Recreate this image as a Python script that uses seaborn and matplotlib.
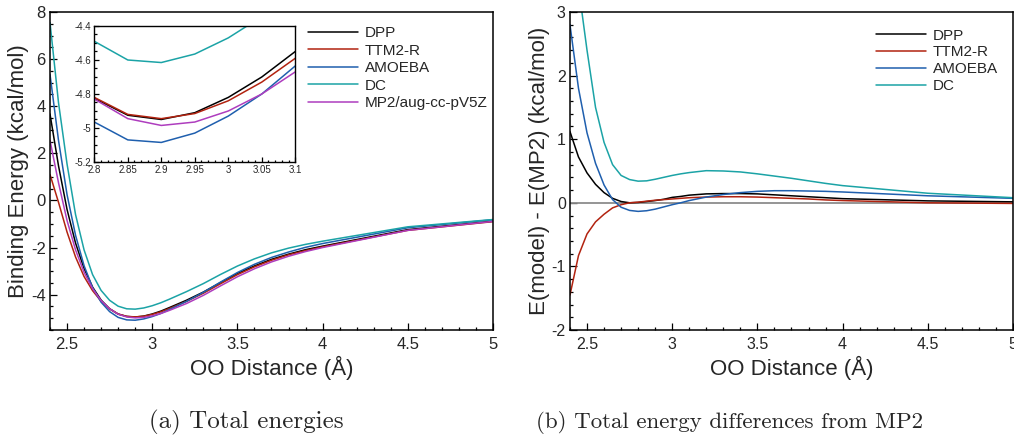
import matplotlib
matplotlib.use("Agg")
import matplotlib.pyplot as plt
import numpy as np
import pandas as pd
import seaborn as sns
from matplotlib.ticker import MultipleLocator

# ---------------- data ----------------
r_oo = [2.4, 2.45, 2.5, 2.55, 2.6, 2.65, 2.7, 2.75, 2.8, 2.85, 2.9, 2.95, 3.0,
        3.05, 3.1, 3.2, 3.3, 3.4, 3.5, 3.6, 3.7, 3.8, 3.9, 4.0, 4.5, 5.0]

# (a) total binding energies, kcal/mol
e_dpp = [3.67, 1.47, -0.38, -1.81, -2.89, -3.68, -4.23, -4.60, -4.825, -4.925,
         -4.95, -4.91, -4.82, -4.70, -4.55, -4.24, -3.89, -3.49, -3.10, -2.78,
         -2.50, -2.28, -2.09, -1.94, -1.24, -0.88]
e_ttm = [1.10, -0.08, -1.34, -2.40, -3.23, -3.83, -4.28, -4.60, -4.82, -4.92,
         -4.945, -4.915, -4.84, -4.73, -4.59, -4.29, -3.94, -3.54, -3.15, -2.82,
         -2.54, -2.31, -2.13, -1.97, -1.27, -0.90]
e_amoeba = [5.35, 2.55, 0.25, -1.48, -2.77, -3.70, -4.32, -4.72, -4.965, -5.07,
            -5.085, -5.03, -4.93, -4.80, -4.635, -4.29, -3.90, -3.47, -3.06, -2.71,
            -2.42, -2.19, -1.99, -1.83, -1.16, -0.82]
e_dc = [7.55, 4.15, 1.55, -0.60, -2.10, -3.15, -3.82, -4.24, -4.49, -4.60,
        -4.615, -4.565, -4.47, -4.345, -4.195, -3.875, -3.53, -3.145, -2.785, -2.48,
        -2.225, -2.025, -1.865, -1.73, -1.12, -0.81]
e_mp2 = [2.55, 0.75, -0.85, -2.10, -3.05, -3.75, -4.25, -4.60, -4.83, -4.945,
         -4.985, -4.965, -4.90, -4.80, -4.67, -4.38, -4.03, -3.63, -3.24, -2.90,
         -2.61, -2.37, -2.17, -2.00, -1.27, -0.89]

# (b) differences from MP2, kcal/mol
d_dpp = [1.12, 0.72, 0.47, 0.29, 0.16, 0.07, 0.02, 0.0, 0.005, 0.02, 0.035, 0.055,
         0.085, 0.10, 0.12, 0.14, 0.145, 0.145, 0.14, 0.125, 0.11, 0.095, 0.08,
         0.065, 0.03, 0.015]
d_ttm = [-1.45, -0.83, -0.49, -0.30, -0.18, -0.08, -0.03, 0.0, 0.01, 0.025, 0.04,
         0.05, 0.06, 0.07, 0.08, 0.09, 0.095, 0.095, 0.09, 0.08, 0.07, 0.06, 0.045,
         0.035, 0.0, -0.01]
d_amoeba = [2.8, 1.8, 1.1, 0.62, 0.28, 0.05, -0.07, -0.12, -0.135, -0.125, -0.10,
            -0.065, -0.03, 0.0, 0.035, 0.09, 0.13, 0.16, 0.18, 0.19, 0.19, 0.185,
            0.18, 0.17, 0.11, 0.07]
d_dc = [5.0, 3.4, 2.4, 1.5, 0.95, 0.60, 0.43, 0.365, 0.34, 0.345, 0.37, 0.40, 0.43,
        0.455, 0.475, 0.505, 0.50, 0.485, 0.455, 0.42, 0.385, 0.345, 0.305, 0.27,
        0.15, 0.08]

models_a = ["DPP", "TTM2-R", "AMOEBA", "DC", "MP2/aug-cc-pV5Z"]
models_b = ["DPP", "TTM2-R", "AMOEBA", "DC"]
colors = {"DPP": "#000000", "TTM2-R": "#B22310", "AMOEBA": "#1F5FAE",
          "DC": "#1BA3A6", "MP2/aug-cc-pV5Z": "#AE3DBE"}

xticks_main = [2.5, 3.0, 3.5, 4.0, 4.5, 5.0]
xticklabels_main = ["2.5", "3", "3.5", "4", "4.5", "5"]
yticks_a = [-4, -2, 0, 2, 4, 6, 8]
yticklabels_a = ["-4", "-2", "0", "2", "4", "6", "8"]
yticks_b = [-2, -1, 0, 1, 2, 3]
yticklabels_b = ["-2", "-1", "0", "1", "2", "3"]
xticks_in = [2.8, 2.85, 2.9, 2.95, 3.0, 3.05, 3.1]
xticklabels_in = ["2.8", "2.85", "2.9", "2.95", "3", "3.05", "3.1"]
yticks_in = [-5.2, -5.0, -4.8, -4.6, -4.4]
yticklabels_in = ["-5.2", "-5", "-4.8", "-4.6", "-4.4"]

df_a = pd.DataFrame({
    "r": r_oo * 5,
    "E": e_dpp + e_ttm + e_amoeba + e_dc + e_mp2,
    "model": sum([[m] * len(r_oo) for m in models_a], []),
})
df_b = pd.DataFrame({
    "r": r_oo * 4,
    "dE": d_dpp + d_ttm + d_amoeba + d_dc,
    "model": sum([[m] * len(r_oo) for m in models_b], []),
})

# ---------------- style ----------------
sns.set_style("ticks")
plt.rcParams["font.family"] = ["Liberation Sans", "DejaVu Sans"]
plt.rcParams["axes.unicode_minus"] = False

fig = plt.figure(figsize=(10.14, 4.42), dpi=100)
ax1 = fig.add_axes([0.0493, 0.2534, 0.4369, 0.7195])
ax2 = fig.add_axes([0.5621, 0.2534, 0.4369, 0.7195])
axin = fig.add_axes([0.0930, 0.6335, 0.1982, 0.3077])

LW = 1.1


def style_axis(ax, major_len, minor_len, lsize, spine_w):
    for s in ax.spines.values():
        s.set_linewidth(spine_w)
        s.set_color("black")
    ax.tick_params(which="both", direction="in", top=False, right=False,
                   color="black", width=0.9)
    ax.tick_params(which="major", length=major_len, labelsize=lsize)
    ax.tick_params(which="minor", length=minor_len)


# ---- (a) ----
sns.lineplot(data=df_a, x="r", y="E", hue="model", hue_order=models_a,
             palette=colors, ax=ax1, lw=LW, estimator=None, legend=True)
ax1.set_xlim(2.4, 5.0)
ax1.set_ylim(-5.5, 8)
ax1.set_xticks(xticks_main, xticklabels_main)
ax1.set_yticks(yticks_a, yticklabels_a)
ax1.xaxis.set_minor_locator(MultipleLocator(0.1))
ax1.yaxis.set_minor_locator(MultipleLocator(0.5))
style_axis(ax1, 5, 2.5, 12, 1.1)
ax1.tick_params(axis="x", pad=5)
ax1.tick_params(axis="y", pad=3)
ax1.set_xlabel("OO Distance (Å)", fontsize=16)
ax1.set_ylabel("Binding Energy (kcal/mol)", fontsize=16)
ax1.xaxis.set_label_coords(0.5, -0.08)
ax1.yaxis.set_label_coords(-0.047, 0.5)
leg = ax1.get_legend()
h = leg.legend_handles
lab = [t.get_text() for t in leg.get_texts()]
leg.remove()
ax1.legend(h, lab, loc="upper left", bbox_to_anchor=(0.582, 0.955),
           frameon=False, borderpad=0, borderaxespad=0, handlelength=3.27,
           handletextpad=0.46, labelspacing=0.23, fontsize=11)

# inset
sns.lineplot(data=df_a, x="r", y="E", hue="model", hue_order=models_a,
             palette=colors, ax=axin, lw=LW, estimator=None, legend=False)
axin.set_facecolor("white")
axin.set_xlim(2.8, 3.1)
axin.set_ylim(-5.2, -4.4)
axin.set_xticks(xticks_in, xticklabels_in)
axin.set_yticks(yticks_in, yticklabels_in)
axin.xaxis.set_minor_locator(MultipleLocator(0.01))
axin.yaxis.set_minor_locator(MultipleLocator(0.05))
style_axis(axin, 3.5, 1.8, 7, 1.0)
axin.tick_params(pad=2)
axin.set_xlabel("")
axin.set_ylabel("")

# ---- (b) ----
ax2.axhline(0, color="#8c8c8c", lw=1.3, zorder=1)
sns.lineplot(data=df_b, x="r", y="dE", hue="model", hue_order=models_b,
             palette=colors, ax=ax2, lw=LW, estimator=None, legend=True)
ax2.set_xlim(2.4, 5.0)
ax2.set_ylim(-2, 3)
ax2.set_xticks(xticks_main, xticklabels_main)
ax2.set_yticks(yticks_b, yticklabels_b)
ax2.xaxis.set_minor_locator(MultipleLocator(0.1))
ax2.yaxis.set_minor_locator(MultipleLocator(0.2))
style_axis(ax2, 5, 2.5, 11.5, 1.1)
ax2.tick_params(axis="x", pad=5)
ax2.tick_params(axis="y", pad=3)
ax2.set_xlabel("OO Distance (Å)", fontsize=16)
ax2.set_ylabel("E(model) - E(MP2) (kcal/mol)", fontsize=16)
ax2.xaxis.set_label_coords(0.5, -0.08)
ax2.yaxis.set_label_coords(-0.045, 0.5)
leg = ax2.get_legend()
h = leg.legend_handles
lab = [t.get_text() for t in leg.get_texts()]
leg.remove()
ax2.legend(h, lab, loc="upper left", bbox_to_anchor=(0.691, 0.948),
           frameon=False, borderpad=0, borderaxespad=0, handlelength=3.27,
           handletextpad=0.46, labelspacing=0.19, fontsize=11)

# captions
fig.text(0.243, 0.045, "(a) Total energies", ha="center", va="center",
         family="cmr10", fontsize=18)
fig.text(0.719, 0.045, "(b) Total energy differences from MP2", ha="center",
         va="center", family="cmr10", fontsize=16.5)

fig.savefig("out.png", dpi=100)
